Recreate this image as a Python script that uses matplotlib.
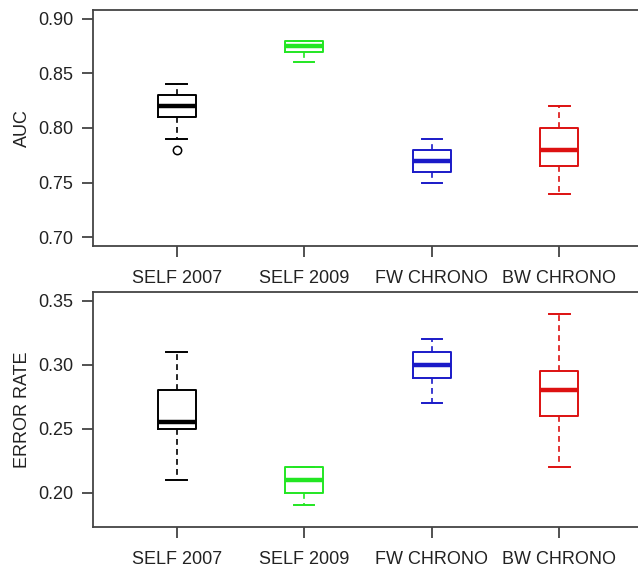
import matplotlib
matplotlib.use("Agg")
import matplotlib.pyplot as plt

plt.rcParams['font.family'] = ['Liberation Sans', 'DejaVu Sans']

categories = ["SELF 2007", "SELF 2009", "FW CHRONO", "BW CHRONO"]
colors = ["#000000", "#22e622", "#1a1ac8", "#dd1111"]

# AUC: whisker low, q1, median, q3, whisker high, outliers
auc_wlo = [0.79, 0.86, 0.75, 0.74]
auc_q1 = [0.81, 0.87, 0.76, 0.765]
auc_med = [0.82, 0.875, 0.77, 0.78]
auc_q3 = [0.83, 0.88, 0.78, 0.80]
auc_whi = [0.84, 0.88, 0.79, 0.82]
auc_out = [[0.78], [], [], []]

err_wlo = [0.21, 0.19, 0.27, 0.22]
err_q1 = [0.25, 0.20, 0.29, 0.26]
err_med = [0.255, 0.21, 0.30, 0.28]
err_q3 = [0.28, 0.22, 0.31, 0.295]
err_whi = [0.31, 0.22, 0.32, 0.34]
err_out = [[], [], [], []]

auc_ticks = [0.70, 0.75, 0.80, 0.85, 0.90]
err_ticks = [0.20, 0.25, 0.30, 0.35]

W, H = 638, 574
fig = plt.figure(figsize=(W / 100, H / 100), dpi=100)

def px_axes(l, t, r, b):
    return fig.add_axes([l / W, 1 - b / H, (r - l) / W, (b - t) / H])

ax1 = px_axes(93, 10, 641, 246)
ax2 = px_axes(93, 292, 641, 527)

def draw(ax, wlo, q1, med, q3, whi, out, ylim, ticks, ylabel):
    for i in range(len(categories)):
        st = [dict(whislo=wlo[i], q1=q1[i], med=med[i], q3=q3[i], whishi=whi[i], fliers=out[i])]
        c = colors[i]
        ax.bxp(st, positions=[i + 1], widths=0.3, showfliers=True,
               boxprops=dict(color=c, linewidth=1.4),
               medianprops=dict(color=c, linewidth=3.2, solid_capstyle='butt'),
               whiskerprops=dict(color=c, linewidth=1.2, linestyle=(0, (3.5, 2.5))),
               capprops=dict(color=c, linewidth=1.4),
               capwidths=0.16,
               flierprops=dict(marker='o', markerfacecolor='none', markeredgecolor=c,
                               markersize=6, markeredgewidth=1.1))
    ax.set_xlim(0.344, 4.64)
    ax.set_ylim(*ylim)
    ax.set_yticks(ticks)
    ax.set_yticklabels([f"{t:.2f}" for t in ticks])
    ax.set_xticks(range(1, len(categories) + 1))
    ax.set_xticklabels(categories)
    ax.tick_params(axis='both', direction='out', length=8, width=1.2, color='#333333',
                   labelsize=13, labelcolor='#222222', pad=6)
    ax.tick_params(axis='x', pad=9)
    for s in ax.spines.values():
        s.set_color('#444444')
        s.set_linewidth(1.3)
    ax.set_ylabel(ylabel, fontsize=13, color='#222222', labelpad=5)

draw(ax1, auc_wlo, auc_q1, auc_med, auc_q3, auc_whi, auc_out, (0.692, 0.908), auc_ticks, "AUC")
draw(ax2, err_wlo, err_q1, err_med, err_q3, err_whi, err_out, (0.1732, 0.3568), err_ticks, "ERROR RATE")

fig.savefig("out.png", dpi=100)
